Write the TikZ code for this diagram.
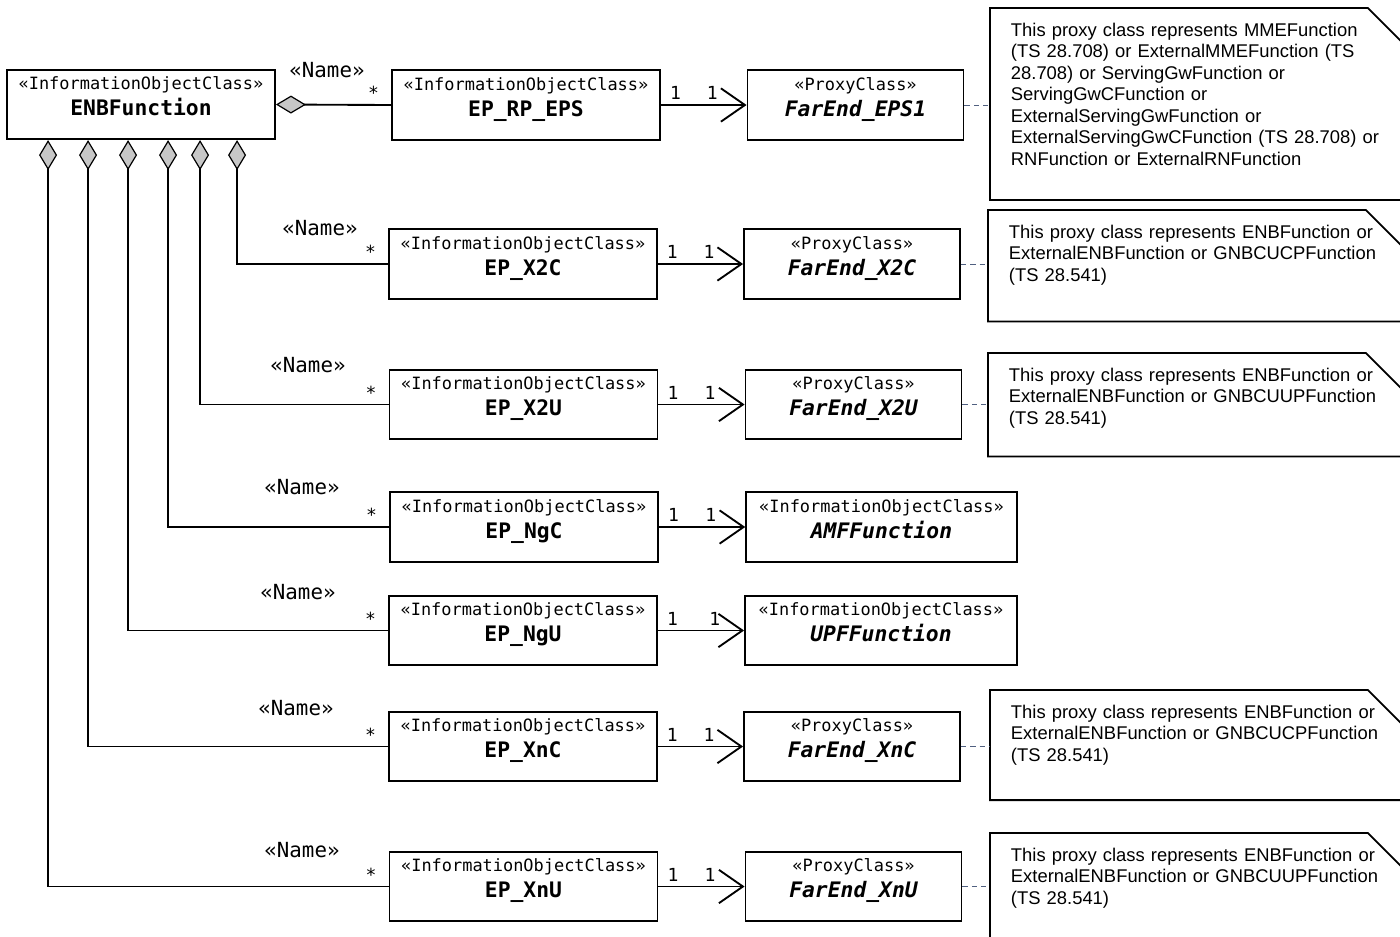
\documentclass[tikz,border=0pt]{standalone}
\usepackage{fontspec}
\setmainfont{Liberation Sans}
\setmonofont{DejaVu Sans Mono}
\usetikzlibrary{positioning,arrows.meta}

\definecolor{anchorblue}{RGB}{80,96,128}
\newcommand{\clsname}[2]{«#1»\\{\fontsize{16}{19.5}\selectfont\bfseries #2}\rule[-12pt]{0pt}{0pt}}
\newcommand{\proxyname}[2]{«#1»\\{\fontsize{16}{19.5}\selectfont\bfseries\itshape #2}\rule[-12pt]{0pt}{0pt}}
\newcommand{\notebottom}[1]{\rule[-#1]{0pt}{0pt}}

\begin{document}
\begin{tikzpicture}[
        x=0.75pt, y=-0.75pt,
        ioc/.style={
            rectangle, draw = black, line width = 1.4pt, align = center,
            inner sep = 2pt, minimum height = 52pt, minimum width = 201pt,
            font = \ttfamily\fontsize{12.7}{19.5}\selectfont
        },
        proxy/.style={ioc, minimum width = 162pt},
        note/.style={
            rectangle, anchor = north west, align = left, text width = 285pt,
            inner xsep = 15.5pt, inner ysep = 11pt,
            font = \fontsize{13.8}{16.1}\selectfont
        },
        noteline/.style={draw = black, line width = 1.4pt},
        aggr/.style={
            {Diamond[fill = black!22, length = 22.5pt, width = 13.5pt, line width = 0.9pt]}-,
            line width = 1.4pt
        },
        navig/.style={-{Straight Barb[length = 18pt, width = 25pt, line width = 1.4pt]}, line width = 1.4pt},
        anchorline/.style={dash pattern = on 4pt off 3pt, draw = anchorblue, line width = 0.6pt},
        role/.style={font = \ttfamily\fontsize{15.6}{18}\selectfont},
        mult/.style={font = \ttfamily\fontsize{13.5}{15}\selectfont},
    ]
        \useasboundingbox (0,0) rectangle (1400,936);
        \clip (0,0) rectangle (1400,936);

        % classes
        \node (enbFunction) [ioc] at (141,104.5) {\clsname{InformationObjectClass}{ENBFunction}};
        \node (epRpEps) [ioc] at (526,105) {\clsname{InformationObjectClass}{EP\_RP\_EPS}};
        \node (epX2C) [ioc] at (523,264) {\clsname{InformationObjectClass}{EP\_X2C}};
        \node (epX2U) [ioc] at (523.5,404.5) {\clsname{InformationObjectClass}{EP\_X2U}};
        \node (epNgC) [ioc] at (524,527) {\clsname{InformationObjectClass}{EP\_NgC}};
        \node (epNgU) [ioc] at (523,630.5) {\clsname{InformationObjectClass}{EP\_NgU}};
        \node (epXnC) [ioc] at (523,746.5) {\clsname{InformationObjectClass}{EP\_XnC}};
        \node (epXnU) [ioc] at (523.5,886.5) {\clsname{InformationObjectClass}{EP\_XnU}};

        \node (farEndEps1) [proxy] at (855.5,105) {\proxyname{ProxyClass}{FarEnd\_EPS1}};
        \node (farEndX2C) [proxy] at (852,264) {\proxyname{ProxyClass}{FarEnd\_X2C}};
        \node (farEndX2U) [proxy] at (853.5,404.5) {\proxyname{ProxyClass}{FarEnd\_X2U}};
        \node (amfFunction) [ioc, minimum width = 203pt] at (881.5,527) {\proxyname{InformationObjectClass}{AMFFunction}};
        \node (upfFunction) [ioc, minimum width = 204pt] at (881,630.5) {\proxyname{InformationObjectClass}{UPFFunction}};
        \node (farEndXnC) [proxy] at (852,746.5) {\proxyname{ProxyClass}{FarEnd\_XnC}};
        \node (farEndXnU) [proxy] at (853.5,886.5) {\proxyname{ProxyClass}{FarEnd\_XnU}};

        % notes
        \node (noteEps1) [note] at (990,8) {This proxy class represents MMEFunction\\(TS 28.708) or ExternalMMEFunction (TS\\28.708) or ServingGwFunction or\\ServingGwCFunction or\\ExternalServingGwFunction or\\ExternalServingGwCFunction (TS 28.708) or\\RNFunction or ExternalRNFunction\notebottom{15pt}};
        \node (noteX2C) [note] at (988,210) {This proxy class represents ENBFunction or\\ExternalENBFunction or GNBCUCPFunction\\(TS 28.541)\notebottom{19pt}};
        \node (noteX2U) [note] at (988,353) {This proxy class represents ENBFunction or\\ExternalENBFunction or GNBCUUPFunction\\(TS 28.541)\notebottom{13pt}};
        \node (noteXnC) [note] at (990,690) {This proxy class represents ENBFunction or\\ExternalENBFunction or GNBCUCPFunction\\(TS 28.541)\notebottom{18pt}};
        \node (noteXnU) [note] at (990,833) {This proxy class represents ENBFunction or\\ExternalENBFunction or GNBCUUPFunction\\(TS 28.541)\notebottom{18pt}};
        \foreach \n in {noteEps1, noteX2C, noteX2U, noteXnC, noteXnU}
            \draw[noteline] (\n.south west) -- (\n.north west) -- ([xshift=-33pt]\n.north east)
                -- ([yshift=-33pt]\n.north east) -- (\n.south east) -- cycle;

        % aggregations
        \draw[aggr] (enbFunction.east) -- node[pos=1, above left, mult, xshift=-5pt] {*} (epRpEps.west);
        \draw[aggr] ([xshift=173.25pt]enbFunction.south west) |- node[pos=1, above left, mult, xshift=-5pt] {*} (epX2C.west);
        \draw[aggr] ([xshift=145.5pt]enbFunction.south west) |- node[pos=1, above left, mult, xshift=-5pt] {*} (epX2U.west);
        \draw[aggr] ([xshift=121.5pt]enbFunction.south west) |- node[pos=1, above left, mult, xshift=-5pt] {*} (epNgC.west);
        \draw[aggr] ([xshift=91.5pt]enbFunction.south west) |- node[pos=1, above left, mult, xshift=-5pt] {*} (epNgU.west);
        \draw[aggr] ([xshift=61.5pt]enbFunction.south west) |- node[pos=1, above left, mult, xshift=-5pt] {*} (epXnC.west);
        \draw[aggr] ([xshift=31.5pt]enbFunction.south west) |- node[pos=1, above left, mult, xshift=-5pt] {*} (epXnU.west);

        \node (roleEps) [role] at (327,70) {«Name»};
        \node (roleX2C) [role] at (320,228) {«Name»};
        \node (roleX2U) [role] at (308,365) {«Name»};
        \node (roleNgC) [role] at (302,487) {«Name»};
        \node (roleNgU) [role] at (298,592) {«Name»};
        \node (roleXnC) [role] at (296,708) {«Name»};
        \node (roleXnU) [role] at (302,850) {«Name»};

        % navigable associations
        \path (epRpEps.east) edge[navig] node[pos=0.17, above, mult] {1} node[pos=0.6, above, mult] {1} (farEndEps1.west);
        \path (epX2C.east) edge[navig] node[pos=0.17, above, mult] {1} node[pos=0.6, above, mult] {1} (farEndX2C.west);
        \path (epX2U.east) edge[navig] node[pos=0.17, above, mult] {1} node[pos=0.6, above, mult] {1} (farEndX2U.west);
        \path (epNgC.east) edge[navig] node[pos=0.17, above, mult] {1} node[pos=0.6, above, mult] {1} (amfFunction.west);
        \path (epNgU.east) edge[navig] node[pos=0.17, above, mult] {1} node[pos=0.66, above, mult] {1} (upfFunction.west);
        \path (epXnC.east) edge[navig] node[pos=0.17, above, mult] {1} node[pos=0.6, above, mult] {1} (farEndXnC.west);
        \path (epXnU.east) edge[navig] node[pos=0.17, above, mult] {1} node[pos=0.6, above, mult] {1} (farEndXnU.west);

        % note anchors
        \draw[anchorline] (farEndEps1.east) -- (farEndEps1.east -| noteEps1.west);
        \draw[anchorline] (farEndX2C.east) -- (farEndX2C.east -| noteX2C.west);
        \draw[anchorline] (farEndX2U.east) -- (farEndX2U.east -| noteX2U.west);
        \draw[anchorline] (farEndXnC.east) -- (farEndXnC.east -| noteXnC.west);
        \draw[anchorline] (farEndXnU.east) -- (farEndXnU.east -| noteXnU.west);

    \end{tikzpicture}
\end{document}
